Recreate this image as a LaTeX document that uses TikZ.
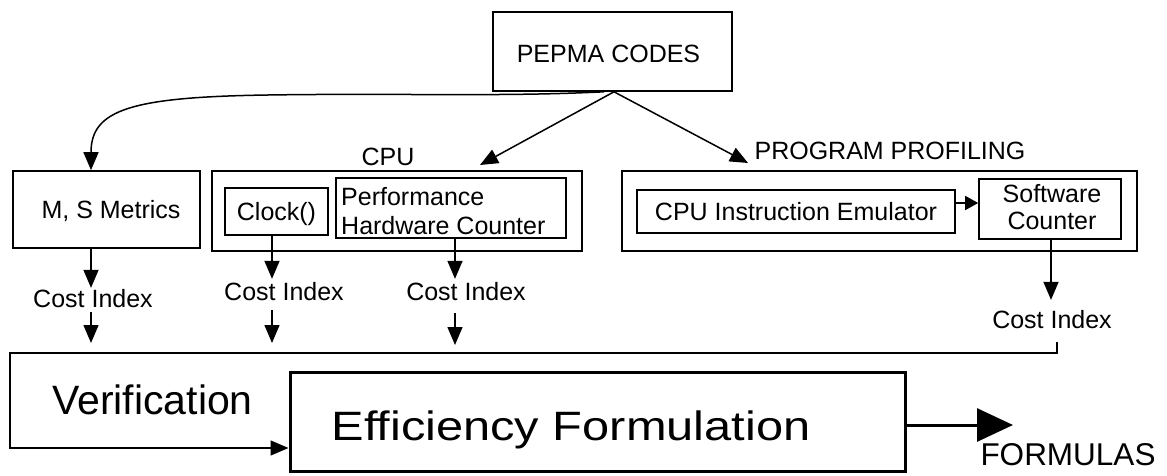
\documentclass[tikz,border=0pt]{standalone}
\usepackage{fontspec}
\setmainfont{Liberation Sans}
\newfontfamily\widefont[FakeStretch=1.19]{Liberation Sans}
\usetikzlibrary{arrows.meta}
\newcommand{\fsA}{\fontsize{25}{29}\selectfont}
\newcommand{\fsV}{\fontsize{41}{46}\selectfont}
\newcommand{\fsE}{\widefont\fontsize{41}{46}\selectfont}
\newcommand{\fsF}{\fontsize{31.5}{36}\selectfont}
\begin{document}
\begin{tikzpicture}[x=1pt,y=-1pt,
  box/.style={draw, line width=1.6pt, inner sep=0pt, font=\fsA, align=center},
  capA/.style={text height=17.9pt, text depth=0pt},
  lbl/.style={inner sep=2pt, font=\fsA, text height=17.9pt, text depth=0pt},
  arr/.style={line width=1.5pt, -{Triangle[length=18pt,width=15pt]}},
  ln/.style={line width=1.5pt}]
\useasboundingbox (0,0) rectangle (1167,476);

% boxes
\node[box, minimum width=239pt, minimum height=79pt] (pepma) at (612.5,51.5) {};
\node[font=\fsA, capA, inner sep=0pt] (pepmatext) at (608.5,53.4) {PEPMA CODES};
\node[box, capA, minimum width=187pt, minimum height=77pt] (ms) at (106.5,209.5) {\hspace*{9pt}M, S Metrics};
\node[box, minimum width=370pt, minimum height=80pt] (cpu) at (397,211) {};
\node[box, capA, minimum width=103pt, minimum height=47pt] (clock) at (276.5,211.5) {Clock()};
\node[box, minimum width=230pt, minimum height=60pt] (perf) at (451,208) {};
\node[font=\fsA, align=left, anchor=west, inner sep=0pt] (perftext) at (341,211) {Performance\\[0pt]Hardware Counter};
\node[box, minimum width=515pt, minimum height=80pt] (pp) at (879.5,211) {};
\node[box, capA, minimum width=318pt, minimum height=43pt] (emu) at (796,211.5) {CPU Instruction Emulator};
\node[box, minimum width=142pt, minimum height=60pt] (soft) at (1050,209) {};
\node[font=\fsA, align=center, inner sep=0pt] (softtext) at (1052,207) {Software\\[-2pt]Counter};
\node[box, line width=3pt, minimum width=615pt, minimum height=99pt] (eff) at (597.5,421.5) {};
\node[font=\fsE, text height=29.4pt, text depth=0pt, inner sep=0pt] (efftext) at (571,426) {Efficiency Formulation};

% labels
\node[lbl] (cpulbl) at (388,157) {CPU};
\node[lbl] (pplbl) at (890,151) {PROGRAM PROFILING};
\node[lbl] (ci1) at (93,299) {Cost Index};
\node[lbl] (ci2) at (284,292) {Cost Index};
\node[lbl] (ci3) at (466,292) {Cost Index};
\node[lbl] (ci4) at (1052,320) {Cost Index};
\node[font=\fsV, text height=29.4pt, text depth=0pt, inner sep=0pt] (verif) at (152.5,400) {Verification};
\node[font=\fsF, text height=22.6pt, text depth=0pt, inner sep=0pt] (formulas) at (1068,454) {FORMULAS};

% coordinates
\coordinate (cpuin) at (480,165);
\coordinate (ppin) at (748,163);
\coordinate (v1) at (91,343);
\coordinate (v2) at (272,343);
\coordinate (v3) at (455,345);
\coordinate (vtr) at (1057,342);
\coordinate (vtl) at (10,353);
\coordinate (fend) at (1013,425);

% arrows from PEPMA
\draw[arr] ([xshift=-8.5pt]pepma.south) .. controls (500,97) and (400,93) .. (268,95)
   .. controls (130,97) and (91,110) .. ([xshift=-15.5pt]ms.north);
\draw[arr] ([xshift=1.5pt]pepma.south) -- (cpuin);
\draw[arr] ([xshift=1.5pt]pepma.south) -- (ppin);

% emulator -> software counter
\draw[ln, -{Triangle[length=13pt,width=14pt]}] ([yshift=8.5pt]emu.east) -- ([yshift=8.5pt]emu.east -| soft.west);

% cost index arrows
\draw[arr] ([xshift=-15.5pt]ms.south) -- ([xshift=-2pt]ci1.north);
\draw[arr] ([xshift=-2pt,yshift=-2pt]ci1.south) -- (v1);
\draw[arr] ([xshift=-4.5pt]clock.south) -- ([xshift=-12pt,yshift=2pt]ci2.north);
\draw[arr] ([xshift=-12pt,yshift=-7pt]ci2.south) -- (v2);
\draw[arr] ([xshift=4pt]perf.south) -- ([xshift=-11pt,yshift=2pt]ci3.north);
\draw[arr] ([xshift=-11pt,yshift=-10pt]ci3.south) -- (v3);
\draw[arr] ([xshift=1pt]soft.south) -- ([xshift=-1pt,yshift=9pt]ci4.north);

% verification loop
\draw[arr] (vtr) -- (vtr |- vtl) -- (vtl) |- ([yshift=-26.5pt]eff.west);

% output
\draw[line width=3pt, -{Triangle[length=36pt,width=33pt]}] ([yshift=-3.5pt]eff.east) -- (fend);
\end{tikzpicture}
\end{document}
